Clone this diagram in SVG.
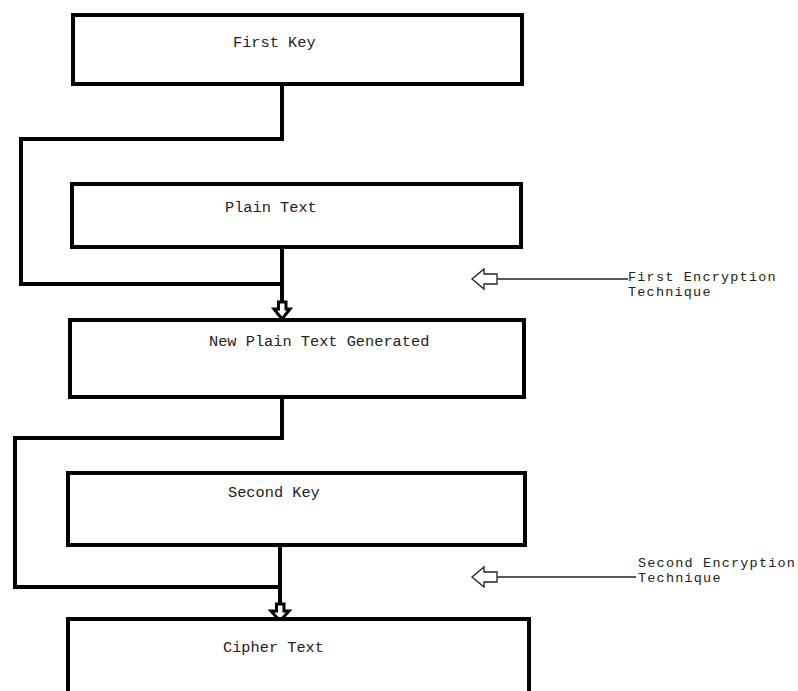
<svg xmlns="http://www.w3.org/2000/svg" width="798" height="691" viewBox="0 0 798 691">
<style>
.box{fill:#fff;stroke:#000;stroke-width:4}
.conn{fill:none;stroke:#000;stroke-width:4}
.lbl{font-family:"Liberation Mono","DejaVu Sans Mono",monospace;font-size:15.3px;fill:#222}
.slbl{font-family:"Liberation Mono","DejaVu Sans Mono",monospace;font-size:13.5px;letter-spacing:1.2px;fill:#222}
.side{fill:none;stroke:#222;stroke-width:1.5}
.harrow{fill:#fff;stroke:#222;stroke-width:1.3}
.darrow{fill:#fff;stroke:#000;stroke-width:3;stroke-linejoin:miter}
</style>
<rect width="798" height="691" fill="#fff"/>
<g id="connectors">
<polyline class="conn" points="282,84 282,139 21,139 21,284 283,284"/>
<line class="conn" x1="282" y1="247" x2="282" y2="302"/>
<path class="darrow" d="M278.5,302 L286,302 L286,309 L290,309 L282,319 L274,309 L278.5,309 Z"/>
<polyline class="conn" points="282,397 282,438 15,438 15,587 281,587"/>
<line class="conn" x1="280" y1="545" x2="280" y2="604"/>
<path class="darrow" d="M276.5,604 L284,604 L284,611 L289,611 L280,621 L271,611 L276.5,611 Z"/>
<line class="side" x1="497" y1="279" x2="628" y2="279"/>
<path class="harrow" d="M497,274 L484,274 L484,269 L472,279 L484,289 L484,284 L497,284 Z"/>
<line class="side" x1="497" y1="577" x2="636" y2="577"/>
<path class="harrow" d="M497,572 L484,572 L484,567 L472,577 L484,587 L484,582 L497,582 Z"/>
</g>
<g id="first-key">
<rect class="box" x="73" y="15" width="449" height="69"/>
<text class="lbl" x="233" y="47">First Key</text>
</g>
<g id="plain-text">
<rect class="box" x="72" y="184" width="449" height="63"/>
<text class="lbl" x="225" y="212">Plain Text</text>
</g>
<g id="new-plain-text">
<rect class="box" x="70" y="320" width="454" height="77"/>
<text class="lbl" x="209" y="346">New Plain Text Generated</text>
</g>
<g id="second-key">
<rect class="box" x="68" y="473" width="457" height="72"/>
<text class="lbl" x="228" y="497">Second Key</text>
</g>
<g id="cipher-text">
<rect class="box" x="68" y="619" width="461" height="80"/>
<text class="lbl" x="223" y="652">Cipher Text</text>
</g>
<g id="first-encryption">
<text class="slbl" x="628" y="281">First Encryption</text>
<text class="slbl" x="628" y="296">Technique</text>
</g>
<g id="second-encryption">
<text class="slbl" x="638" y="567">Second Encryption</text>
<text class="slbl" x="638" y="582">Technique</text>
</g>
</svg>
